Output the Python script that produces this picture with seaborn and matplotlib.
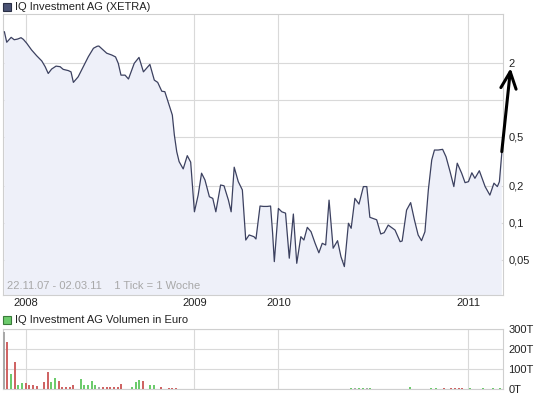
import matplotlib
matplotlib.use("Agg")
import matplotlib.pyplot as plt
import seaborn as sns
import pandas as pd
from matplotlib.patches import Rectangle

# ---------------- data ----------------
title_price = "IQ Investment AG (XETRA)"
title_volume = "IQ Investment AG Volumen in Euro"
period_note = "22.11.07 - 02.03.11    1 Tick = 1 Woche"

# x positions in chart ticks (weeks shown on the chart)
tick = [0.4, 1.1, 2.4, 3.3, 4.3, 5.3, 6.0, 7.0, 8.4, 9.9,
        11.4, 12.4, 13.3, 14.3, 15.6, 16.8, 17.7, 19.2, 20.0, 20.7,
        22.1, 23.6, 25.1, 26.6, 27.7, 28.2, 30.5, 32.0, 33.1, 33.9,
        34.7, 35.9, 36.9, 38.6, 40.0, 41.3, 43.2, 44.5, 45.5, 46.7,
        47.6, 48.6, 49.8, 50.4, 51.1, 51.8, 53.0, 54.2, 55.2, 56.3,
        57.4, 58.4, 59.4, 60.7, 61.7, 62.6, 64.0, 65.0, 66.3, 67.1,
        68.0, 69.2, 70.4, 71.4, 72.4, 73.8, 74.4, 75.6, 76.6, 77.7,
        78.7, 79.3, 79.8, 81.0, 82.0, 83.1, 84.2, 85.4, 86.4, 87.6,
        88.5, 89.5, 90.6, 91.8, 92.9, 93.9, 94.9, 95.9, 97.1, 98.4,
        99.4, 100.4, 101.6, 102.4, 103.5, 104.7, 106.0, 107.0, 107.9, 109.9,
        111.1, 112.1, 113.3, 115.3, 116.8, 117.4, 118.7, 119.9, 121.0, 122.1,
        123.1, 124.1, 125.1, 126.1, 126.9, 128.0, 129.3, 130.3, 131.5, 132.6,
        133.6, 134.9, 135.9, 136.9, 137.9, 138.8, 140.1, 141.8, 143.2, 144.4,
        145.4, 146.0, 146.7]

price = [3.56, 2.92, 3.20, 3.06, 3.10, 3.18, 3.08, 2.86, 2.53, 2.27,
         2.06, 1.85, 1.63, 1.77, 1.87, 1.85, 1.76, 1.72, 1.68, 1.38,
         1.53, 1.85, 2.23, 2.61, 2.71, 2.72, 2.38, 2.30, 2.22, 1.97,
         1.58, 1.58, 1.47, 1.97, 2.20, 1.68, 1.93, 1.44, 1.38, 1.17,
         1.16, 0.95, 0.75, 0.516, 0.378, 0.314, 0.274, 0.351, 0.311, 0.123,
         0.168, 0.253, 0.223, 0.163, 0.158, 0.123, 0.203, 0.200, 0.153, 0.123,
         0.283, 0.216, 0.185, 0.0726, 0.0798, 0.0773, 0.0740, 0.137, 0.136, 0.136,
         0.137, 0.0824, 0.0485, 0.131, 0.123, 0.120, 0.0517, 0.118, 0.0470, 0.0773,
         0.0726, 0.092, 0.0848, 0.0683, 0.0572, 0.0683, 0.0662, 0.153, 0.0623, 0.0717,
         0.0532, 0.0442, 0.0993, 0.0904, 0.158, 0.142, 0.197, 0.197, 0.111, 0.106,
         0.0813, 0.0833, 0.096, 0.0875, 0.0704, 0.0713, 0.127, 0.146, 0.106, 0.0798,
         0.0717, 0.0848, 0.185, 0.324, 0.390, 0.390, 0.395, 0.344, 0.260, 0.197,
         0.305, 0.253, 0.212, 0.216, 0.255, 0.230, 0.265, 0.197, 0.168, 0.210,
         0.197, 0.216, 0.367]

year_labels = ["2008", "2009", "2010", "2011"]
year_ticks = [6.8, 56.3, 81.0, 136.9]

price_ticks = [0.05, 0.1, 0.2, 0.5, 1, 2]
price_tick_labels = ["0,05", "0,1", "0,2", "0,5", "", "2"]

# volume in thousand euro (T)
vol_tick = [0.35, 1.1, 2.3, 3.4, 4.4, 5.6, 6.7, 7.7, 8.8, 9.9,
            12.1, 13.1, 14.2, 15.3, 16.4, 17.4, 18.5, 19.6, 20.6, 22.9,
            23.9, 25.0, 26.1, 27.1, 28.2, 29.3, 30.5, 31.6, 32.6, 33.7,
            34.8, 38.0, 39.1, 40.1, 41.2, 43.2, 44.3, 46.6, 48.7, 49.8,
            50.9, 102.4, 103.5, 104.7, 105.9, 107.1, 107.9, 119.7, 125.9, 127.4,
            129.7, 131.8, 132.9, 134.1, 135.0, 137.4, 141.2, 144.1, 146.2]
vol_value = [286, 237, 75, 137, 20, 28, 32, 20, 20, 15,
             33, 87, 33, 57, 40, 10, 10, 10, 20, 50,
             20, 20, 40, 20, 12, 8, 10, 8, 10, 10,
             26, 10, 33, 43, 40, 20, 20, 8, 5, 5,
             5, 3, 4, 3, 5, 4, 3, 8, 5, 6,
             7, 4, 4, 3, 3, 6, 3, 3, 5]
vol_dir = ["flat", "down", "up", "down", "up", "up", "down", "down", "down", "down",
           "down", "down", "up", "up", "down", "down", "down", "down", "down", "up",
           "up", "up", "up", "up", "flat", "down", "down", "down", "down", "down",
           "down", "up", "up", "up", "down", "up", "up", "down", "down", "down",
           "down", "up", "flat", "up", "up", "flat", "up", "up", "up", "up",
           "down", "down", "down", "down", "down", "up", "up", "up", "up"]
vol_ticks = [0, 100, 200, 300]
vol_tick_labels = ["0T", "100T", "200T", "300T"]

# ---------------- style ----------------
sns.set_theme(style="white")
plt.rcParams["font.family"] = ["Liberation Sans", "DejaVu Sans"]

W, H = 545, 398
fig = plt.figure(figsize=(W / 100, H / 100), dpi=100)
fig.patch.set_facecolor("white")

def fx(px):
    return px / W

def fy(py):
    return 1 - py / H

line_color = "#3c4160"
fill_color = "#eef0f9"
grid_color = "#d9d9d9"
frame_color = "#cfcfcf"
text_color = "#222222"
colors = {"up": "#6ccb6c", "down": "#cf6464", "flat": "#a9a9a9"}

XMAX = 147.06

# ---------------- price axes ----------------
ax = fig.add_axes([fx(3), fy(295), fx(503) - fx(3), fy(14) - fy(295)])
df = pd.DataFrame({"tick": tick, "price": price})
ax.fill_between(df["tick"], df["price"], 1e-4, color=fill_color, lw=0, zorder=1)
sns.lineplot(data=df, x="tick", y="price", ax=ax, color=line_color, lw=0.9,
             estimator=None, sort=False, zorder=3)
ax.set_yscale("log")
ax.set_ylim(0.026, 4.95)
ax.set_xlim(0, XMAX)
ax.set_yticks(price_ticks)
ax.set_yticklabels(price_tick_labels)
ax.minorticks_off()
ax.set_xticks(year_ticks)
ax.set_xticklabels(year_labels)
ax.yaxis.tick_right()
ax.tick_params(axis="y", length=0, pad=4, labelsize=8, labelcolor=text_color)
ax.tick_params(axis="x", length=0, pad=2, labelsize=8, labelcolor=text_color)
ax.grid(True, color=grid_color, lw=0.8, zorder=0)
ax.set_axisbelow(True)
for s in ax.spines.values():
    s.set_color(frame_color)
    s.set_linewidth(0.8)
ax.set_xlabel("")
ax.set_ylabel("")
for lab in ax.get_yticklabels():
    lab.set_horizontalalignment("left")
ax.text(0.008, 0.015, period_note, transform=ax.transAxes, fontsize=8,
        color="#a8a8a8", ha="left", va="bottom")

# hand-drawn style arrow pointing to 2
ax.annotate("", xy=(149.3, 1.80), xytext=(146.7, 0.378),
            arrowprops=dict(arrowstyle="->,head_length=1.2,head_width=0.55",
                            mutation_scale=10, lw=2.2, color="black",
                            shrinkA=0, shrinkB=0),
            annotation_clip=False, zorder=6)

# ---------------- volume axes ----------------
ax2 = fig.add_axes([fx(3), fy(389), fx(503) - fx(3), fy(329.3) - fy(389)])
for d in ["flat", "down", "up"]:
    xs = [t for t, dd in zip(vol_tick, vol_dir) if dd == d]
    vs = [v for v, dd in zip(vol_value, vol_dir) if dd == d]
    ax2.bar(xs, vs, width=0.6, color=colors[d], lw=0, zorder=3)
ax2.set_xlim(0, XMAX)
ax2.set_ylim(0, 300)
ax2.set_yticks(vol_ticks)
ax2.set_yticklabels(vol_tick_labels)
ax2.set_xticks(year_ticks)
ax2.set_xticklabels([])
ax2.yaxis.tick_right()
ax2.tick_params(axis="y", length=0, pad=4, labelsize=8, labelcolor=text_color)
ax2.tick_params(axis="x", length=0)
ax2.grid(True, color=grid_color, lw=0.8, zorder=0)
ax2.set_axisbelow(True)
for s in ax2.spines.values():
    s.set_color(frame_color)
    s.set_linewidth(0.8)

# ---------------- titles with square markers ----------------
def legend_title(px, py, label, face, edge):
    fig.patches.append(Rectangle((fx(px), fy(py + 8)), fx(8), 8 / H,
                                 transform=fig.transFigure, facecolor=face,
                                 edgecolor=edge, lw=0.8))
    fig.text(fx(px + 12), fy(py + 4), label, fontsize=8, color=text_color,
             ha="left", va="center")

legend_title(3, 3, title_price, "#4a5274", "#2a2f45")
legend_title(3, 316, title_volume, "#6ccb6c", "#3a7a3a")

fig.savefig("out.png", dpi=100)
